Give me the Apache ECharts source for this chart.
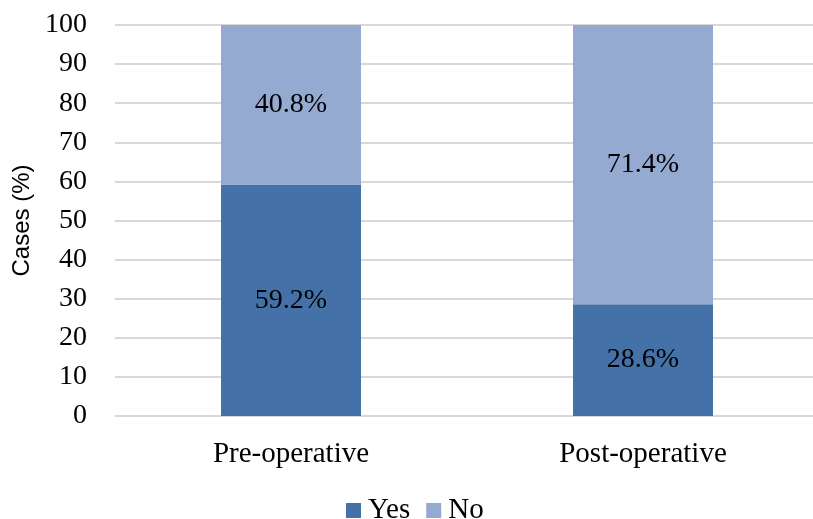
<!DOCTYPE html>
<html>
<head>
<meta charset="utf-8">
<script src="https://cdn.jsdelivr.net/npm/echarts@6/dist/echarts.min.js"></script>
<style>
  html, body { margin: 0; padding: 0; background: #fff; }
  #chart { width: 813px; height: 519px; }
</style>
</head>
<body>
<div id="chart"></div>
<script>
// Share of cases before and after surgery
const categories = ['Pre-operative', 'Post-operative'];
const yesValues = [59.2, 28.6];
const noValues = [40.8, 71.4];
const yTicks = [0, 10, 20, 30, 40, 50, 60, 70, 80, 90, 100];

const serif = 'Liberation Serif';
const chart = echarts.init(document.getElementById('chart'));

const labelStyle = {
  show: true,
  position: 'inside',
  fontFamily: serif,
  fontSize: 28,
  color: '#000',
  formatter: p => p.value.toFixed(1) + '%'
};

chart.setOption({
  animation: false,
  grid: {
    left: 115, width: 704, top: 25, bottom: 103,
    containLabel: false, outerBoundsMode: 'none'
  },
  legend: {
    top: 496,
    left: 346,
    padding: 0,
    itemWidth: 15,
    itemHeight: 15,
    itemGap: 16,
    icon: 'rect',
    textStyle: { fontFamily: serif, fontSize: 29, color: '#000', padding: [0, 0, 0, 2] },
    data: ['Yes', 'No']
  },
  xAxis: {
    type: 'category',
    data: categories,
    axisLine: { show: false },
    axisTick: { show: false },
    axisLabel: { fontFamily: serif, fontSize: 29, color: '#000', margin: 24 }
  },
  yAxis: {
    type: 'value',
    min: yTicks[0],
    max: yTicks[yTicks.length - 1],
    interval: 10,
    name: 'Cases (%)',
    nameLocation: 'middle',
    nameGap: 70,
    nameTextStyle: { fontFamily: 'Liberation Sans', fontSize: 24, color: '#000' },
    axisLine: { show: false },
    axisTick: { show: false },
    axisLabel: { fontFamily: serif, fontSize: 28, color: '#000', margin: 28 },
    splitLine: { lineStyle: { color: '#d9d9d9', width: 2 } }
  },
  series: [
    {
      name: 'Yes',
      type: 'bar',
      stack: 'cases',
      barWidth: 140,
      data: yesValues,
      itemStyle: { color: '#4472a8' },
      label: labelStyle
    },
    {
      name: 'No',
      type: 'bar',
      stack: 'cases',
      barWidth: 140,
      data: noValues,
      itemStyle: { color: '#95aad1' },
      label: labelStyle
    }
  ]
});
</script>
</body>
</html>
